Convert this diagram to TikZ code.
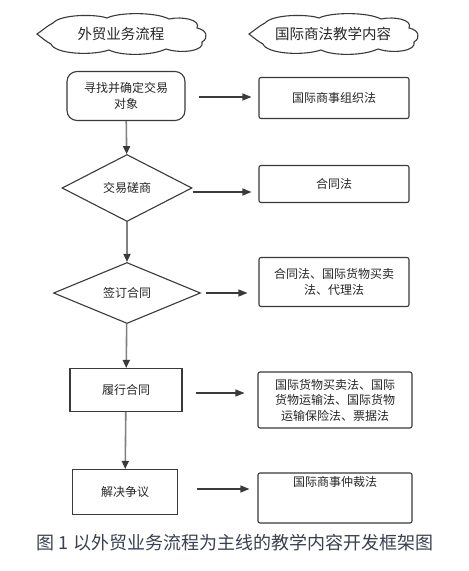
\documentclass[tikz,border=0pt]{standalone}
\usepackage{fontspec}
\setmainfont{Noto Sans CJK SC}
\usetikzlibrary{shapes.geometric,arrows.meta}
\definecolor{ln}{HTML}{3A3A3A}
\definecolor{cap}{HTML}{3A4050}
\tikzset{
  base/.style={draw=ln, line width=1.1pt, align=center, text=black!85, inner sep=1pt,
    font=\fontsize{12}{15.5}\selectfont},
  cloudtext/.style={inner sep=0pt, font=\fontsize{14.5}{16}\selectfont, text=black!85},
  cloudline/.style={draw=ln, line width=1.1pt},
  start/.style={base, rectangle, rounded corners=10pt, minimum width=118pt, minimum height=49pt},
  proc/.style={base, rectangle},
  law/.style={base, rectangle, rounded corners=2pt, minimum width=150pt},
  dec/.style={base, diamond, inner sep=0pt},
  varrow/.style={draw=black!50, line width=1.6pt, -{Triangle[length=8pt,width=7pt,color=ln]}},
  harrow/.style={draw=ln, line width=1.1pt, -{Triangle[length=9pt,width=7pt]}}
}
\newcommand\mycloudshape[1]{%
  \begin{scope}[shift={(#1)}]
  \draw[cloudline] (-84,0)
    .. controls (-78,-4) and (-74,-8) .. (-68,-11)
    .. controls (-60,-20) and (-25,-20) .. (-14,-16)
    .. controls (-2,-22) and (35,-22) .. (48,-15)
    .. controls (62,-18) and (80,-14) .. (76,-6)
    .. controls (86,-4) and (88,4) .. (81,8)
    .. controls (84,17) and (60,20) .. (45,15)
    .. controls (30,22) and (0,22) .. (-12,16)
    .. controls (-30,22) and (-66,20) .. (-70,10)
    .. controls (-74,8) and (-79,4) .. (-84,0) -- cycle;
  \end{scope}}
\begin{document}
\begin{tikzpicture}[x=1pt,y=-1pt]
\useasboundingbox[fill=white] (0,0) rectangle (469,571);

\node[cloudtext] (c1) at (121,34) {外贸业务流程};
\node[cloudtext] (c2) at (333,34) {国际商法教学内容};
\mycloudshape{c1.center}
\mycloudshape{c2.center}

\node[start] (n1) at (126,96) {寻找并确定交易\\对象};
\node[dec, minimum width=130pt, minimum height=67pt] (n2) at (127,188) {交易磋商};
\node[dec, minimum width=147pt, minimum height=61pt] (n3) at (127,293) {签订合同};
\node[proc, minimum width=112pt, minimum height=43pt] (n4) at (126,390) {履行合同};
\node[proc, minimum width=105pt, minimum height=45pt] (n5) at (125,492) {解决争议};

\node[law, minimum height=41pt] (b1) at (334,98) {国际商事组织法};
\node[law, minimum height=37pt] (b2) at (334,184) {合同法};
\node[law, minimum height=49pt] (b3) at (334,282) {合同法、国际货物买卖\\法、代理法};
\node[law, minimum width=154pt, minimum height=56pt] (b4) at (335,400) {国际货物买卖法、国际\\货物运输法、国际货物\\运输保险法、票据法};
\node[law, minimum width=154pt, minimum height=50pt] (b5) at (335,498) {};
\node[font=\fontsize{12}{14}\selectfont, text=black!85, anchor=north, inner sep=0pt] (t5) at ([yshift=-4pt]b5.north) {国际商事仲裁法};

\draw[varrow] (n1) -- (n2);
\draw[varrow] (n2) -- (n3);
\draw[varrow] (n3) -- (n4);
\draw[varrow] (n4) -- (n5);

\draw[harrow] ([xshift=13pt,yshift=-1pt]n1.east) -- ([xshift=-7pt,yshift=1pt]b1.west);
\draw[harrow] ([yshift=-4pt]n2.east) -- ([xshift=-7pt,yshift=-8pt]b2.west);
\draw[harrow] ([xshift=5pt]n3.east) -- ([xshift=-11pt,yshift=-11pt]b3.west);
\draw[harrow] ([xshift=13pt,yshift=-3pt]n4.east) -- ([xshift=-13pt,yshift=7pt]b4.west);
\draw[harrow] ([xshift=19pt,yshift=3pt]n5.east) -- ([xshift=-8pt,yshift=9pt]b5.west);

\node[font=\fontsize{18}{20}\selectfont, text=cap, inner sep=0pt] (cap) at (235,543) {图 1 以外贸业务流程为主线的教学内容开发框架图};
\end{tikzpicture}
\end{document}
